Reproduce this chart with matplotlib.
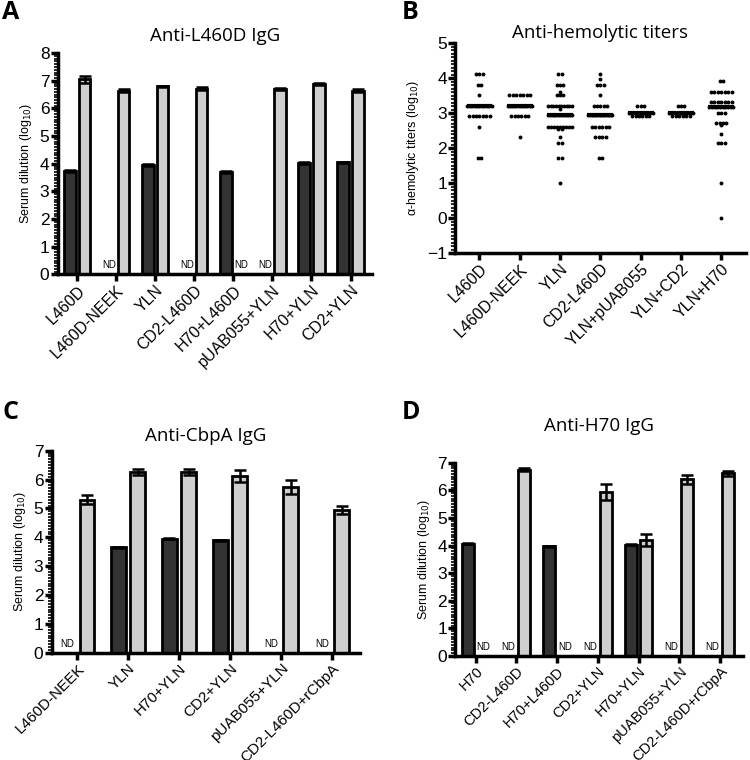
import numpy as np
import matplotlib.pyplot as plt
from matplotlib.ticker import MultipleLocator

plt.rcParams['font.family'] = ['Liberation Sans', 'DejaVu Sans']

DARK = "#333333"
LIGHT = "#cfcfcf"
TITLE_FONT = ["Open Sans", "DejaVu Sans"]

# Panel A: Anti-L460D IgG (None = ND)
a_groups = ["L460D", "L460D-NEEK", "YLN", "CD2-L460D", "H70+L460D",
            "pUAB055+YLN", "H70+YLN", "CD2+YLN"]
a_dark = [3.75, None, 3.95, None, 3.70, None, 4.02, 4.05]
a_dark_err = [0.03, 0, 0.03, 0, 0.03, 0, 0.03, 0.03]
a_light = [7.05, 6.65, 6.80, 6.72, None, 6.70, 6.88, 6.65]
a_light_err = [0.12, 0.04, 0.03, 0.05, 0, 0.04, 0.04, 0.05]

# Panel B: anti-hemolytic titers, (value, count) per group
b_groups = ["L460D", "L460D-NEEK", "YLN", "CD2-L460D", "YLN+pUAB055",
            "YLN+CD2", "YLN+H70"]
b_l460d = [(4.11, 3), (3.81, 2), (3.51, 1), (3.20, 11), (2.91, 7), (2.61, 1), (1.71, 2)]
b_neek = [(3.51, 7), (3.20, 12), (2.91, 6), (2.31, 1)]
b_yln = [(4.11, 2), (3.81, 3), (3.51, 3), (3.62, 1), (3.20, 10), (3.12, 1), (2.95, 14),
         (2.61, 9), (2.55, 2), (2.31, 1), (2.15, 2), (1.71, 2), (1.00, 1)]
b_cd2l = [(4.11, 1), (3.98, 1), (3.81, 3), (3.51, 1), (3.20, 5), (2.95, 16),
          (2.61, 6), (2.31, 4), (1.71, 2)]
b_puab = [(3.20, 3), (3.00, 9), (2.91, 6)]
b_cd2 = [(3.20, 3), (3.00, 9), (2.91, 6)]
b_h70 = [(3.92, 2), (3.62, 7), (3.32, 7), (3.18, 10), (3.00, 3), (2.72, 4),
         (2.65, 1), (2.40, 1), (2.15, 3), (1.00, 1), (0.00, 1)]
b_data = [b_l460d, b_neek, b_yln, b_cd2l, b_puab, b_cd2, b_h70]

# Panel C: Anti-CbpA IgG
c_groups = ["L460D-NEEK", "YLN", "H70+YLN", "CD2+YLN", "pUAB055+YLN",
            "CD2-L460D+rCbpA"]
c_dark = [None, 3.65, 3.95, 3.90, None, None]
c_dark_err = [0, 0.02, 0.02, 0.02, 0, 0]
c_light = [5.30, 6.25, 6.25, 6.12, 5.75, 4.95]
c_light_err = [0.15, 0.10, 0.10, 0.22, 0.25, 0.15]

# Panel D: Anti-H70 IgG
d_groups = ["H70", "CD2-L460D", "H70+L460D", "CD2+YLN", "H70+YLN",
            "pUAB055+YLN", "CD2-L460D+rCbpA"]
d_dark = [4.07, None, 3.97, None, 4.03, None, None]
d_dark_err = [0.03, 0, 0.02, 0, 0.02, 0, 0]
d_light = [None, 6.75, None, 5.95, 4.20, 6.40, 6.62]
d_light_err = [0, 0.05, 0, 0.28, 0.22, 0.15, 0.10]


def style_axis(ax, ymin, ymax, ylabel, xsize):
    for s in ["top", "right"]:
        ax.spines[s].set_visible(False)
    for s in ["left", "bottom"]:
        ax.spines[s].set_linewidth(2.5)
    ax.set_ylim(ymin, ymax)
    ax.yaxis.set_major_locator(MultipleLocator(1))
    ax.yaxis.set_minor_locator(MultipleLocator(0.1))
    ax.tick_params(axis="y", which="major", length=5, width=2.5, labelsize=12.5, pad=1)
    ax.tick_params(axis="y", which="minor", length=3, width=1.2)
    ax.tick_params(axis="x", which="major", length=5, width=2.5, labelsize=xsize, pad=1)
    ax.set_ylabel(ylabel, fontsize=9, labelpad=4)


def bar_panel(ax, groups, dark, dark_err, light, light_err, ymax, title, xsize):
    x = np.arange(len(groups))
    off, w = 0.19, 0.29
    for i in range(len(groups)):
        for val, err, dx, col in [(dark[i], dark_err[i], -off, DARK),
                                  (light[i], light_err[i], off, LIGHT)]:
            if val is None:
                ax.text(x[i] + dx, 0.15, "ND", ha="center", va="bottom", fontsize=7)
                continue
            ax.bar(x[i] + dx, val, w, color=col, edgecolor="black", linewidth=2, zorder=2)
            ax.errorbar(x[i] + dx, val, yerr=err, color="black", capsize=4,
                        elinewidth=1.8, capthick=1.8, zorder=3)
    ax.set_xticks(x)
    ax.set_xticklabels(groups, rotation=45, ha="right", rotation_mode="anchor")
    ax.set_xlim(-0.5, len(groups) - 0.45)
    style_axis(ax, 0, ymax, "Serum dilution (log$_{10}$)", xsize)


fig = plt.figure(figsize=(7.5, 7.6), dpi=100)

axA = fig.add_axes([0.077, 0.639, 0.419, 0.291])
bar_panel(axA, a_groups, a_dark, a_dark_err, a_light, a_light_err, 8, "Anti-L460D IgG", 11.5)
axA.set_title("Anti-L460D IgG", fontsize=13.5, family=TITLE_FONT, pad=9)

axB = fig.add_axes([0.607, 0.667, 0.387, 0.276])
for gi, rows in enumerate(b_data):
    xs, ys = [], []
    for val, n in rows:
        step = min(0.085, 0.6 / max(n - 1, 1))
        for k in range(n):
            xs.append(gi + (k - (n - 1) / 2) * step)
            ys.append(val)
    all_vals = np.repeat([v for v, n in rows], [n for v, n in rows])
    axB.plot(xs, ys, "o", color="black", ms=2.8, mew=0, zorder=2)
    med = np.median(all_vals)
    axB.hlines(med, gi - 0.32, gi + 0.32, color="black", lw=3, zorder=3)
axB.set_xticks(np.arange(len(b_groups)))
axB.set_xticklabels(b_groups, rotation=45, ha="right", rotation_mode="anchor")
axB.set_xlim(-0.6, len(b_groups) - 0.4)
style_axis(axB, -1, 5, "\u03b1-hemolytic titers (log$_{10}$)", 11.5)
axB.set_title("Anti-hemolytic titers", fontsize=13.5, family=TITLE_FONT, pad=4)

axC = fig.add_axes([0.069, 0.141, 0.411, 0.266])
bar_panel(axC, c_groups, c_dark, c_dark_err, c_light, c_light_err, 7, "Anti-CbpA IgG", 11)
axC.set_title("Anti-CbpA IgG", fontsize=13.5, family=TITLE_FONT, pad=7)

axD = fig.add_axes([0.607, 0.137, 0.383, 0.254])
bar_panel(axD, d_groups, d_dark, d_dark_err, d_light, d_light_err, 7, "Anti-H70 IgG", 10.5)
axD.set_title("Anti-H70 IgG", fontsize=13.5, family=TITLE_FONT, y=1.12, pad=6)

for lbl, (x, y) in zip("ABCD", [(0.003, 0.984), (0.535, 0.984), (0.003, 0.457), (0.535, 0.457)]):
    fig.text(x, y, lbl, fontsize=18, fontweight="bold", family=TITLE_FONT,
             ha="left", va="center")

fig.savefig("out.png", dpi=100)
